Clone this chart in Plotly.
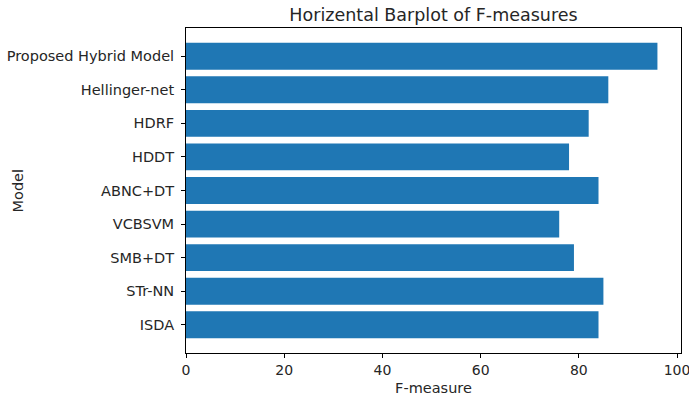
import plotly.graph_objects as go

# F-measure per model, bottom to top as drawn
models = ["ISDA", "STr-NN", "SMB+DT", "VCBSVM", "ABNC+DT", "HDDT", "HDRF",
          "Hellinger-net", "Proposed Hybrid Model"]
f_measure = [84, 85, 79, 76, 84, 78, 82, 86, 96]
x_ticks = [0, 20, 40, 60, 80, 100]

positions = list(range(len(models)))
font_family = "DejaVu Sans, sans-serif"
text_color = "#262626"

# plot area edges in pixels
left_px, right_px = 186, 681

fig = go.Figure(
    go.Bar(
        x=f_measure,
        y=positions,
        orientation="h",
        width=0.8,
        marker=dict(color="#1f77b4", line=dict(width=0)),
    )
)

axis_common = dict(
    showline=True,
    linecolor="#000000",
    linewidth=1,
    mirror=True,
    showgrid=False,
    zeroline=False,
    ticks="outside",
    ticklen=4,
    tickwidth=1,
    tickcolor="#000000",
    automargin=False,
)

fig.update_xaxes(
    range=[0, max(f_measure) * 1.05],
    tickvals=x_ticks,
    ticktext=[str(t) for t in x_ticks],
    tickfont=dict(family=font_family, size=14, color=text_color),
    ticklabeloverflow="allow",
    title=dict(text="F-measure", font=dict(family=font_family, size=14.5, color=text_color), standoff=6),
    **axis_common,
)
fig.update_yaxes(
    range=[-0.84, len(models) - 1 + 0.84],
    tickvals=positions,
    ticktext=models,
    tickfont=dict(family=font_family, size=14.5, color=text_color),
    ticklabelstandoff=4,
    **axis_common,
)

# y-axis title placed as a rotated annotation
fig.add_annotation(
    text="Model",
    xref="paper",
    yref="paper",
    x=(17 - left_px) / (right_px - left_px),
    y=0.5,
    xanchor="center",
    yanchor="middle",
    textangle=-90,
    showarrow=False,
    font=dict(family=font_family, size=14.5, color=text_color),
)

fig.update_layout(
    width=689,
    height=400,
    margin=dict(l=left_px, r=689 - right_px, t=28, b=47, autoexpand=False),
    paper_bgcolor="#ffffff",
    plot_bgcolor="#ffffff",
    title=dict(
        text="Horizental Barplot of F-measures",
        font=dict(family=font_family, size=17.5, color=text_color),
        x=(left_px + right_px) / 2 / 689,
        xanchor="center",
        y=1 - 15 / 400,
        yanchor="middle",
    ),
    showlegend=False,
)

fig.write_html("out.html")
